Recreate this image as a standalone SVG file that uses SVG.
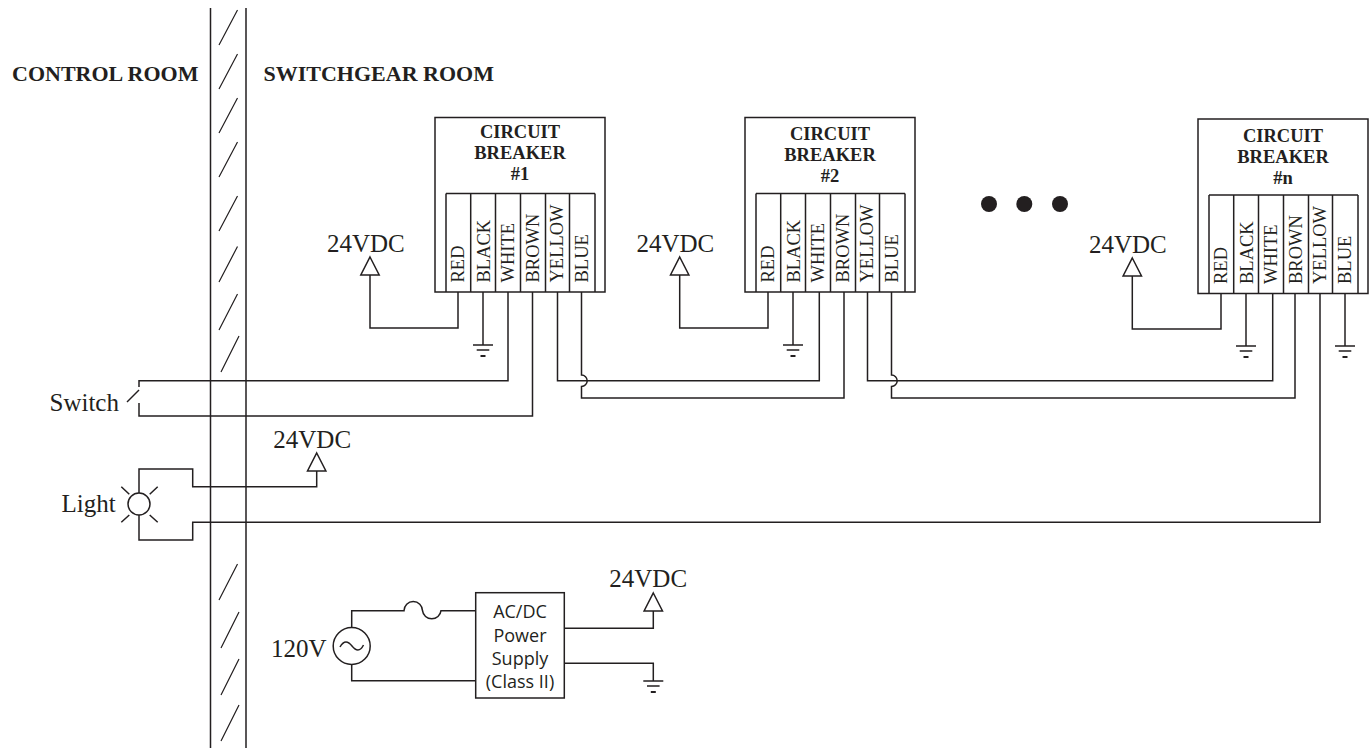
<svg xmlns="http://www.w3.org/2000/svg" width="1372" height="748" viewBox="0 0 1372 748">
<style>
.l{fill:none;stroke:#231f20;stroke-width:1.5}
.h{fill:none;stroke:#231f20;stroke-width:1.2}
text{fill:#231f20;font-family:"Liberation Serif",serif}
.b{font-weight:bold}
.room{font-size:22px}
.title{font-size:18.5px;text-anchor:middle;font-weight:bold}
.term{font-size:18.5px}
.v{font-size:25px}
.lab{font-size:25px}
.psu{font-family:"Open Sans","Noto Sans",sans-serif;font-size:18px;text-anchor:middle}
</style>
<defs>
<g id="gnd"><path class="l" d="M-10 0H10M-6.300 5H6.300"/><path fill="none" stroke="#231f20" stroke-width="2" d="M-2.500 11H2.500"/></g>
<path id="tri" class="l" d="M0 0L9.200 18H-9.200Z"/>
<g id="block">
<path class="l" d="M0 0H170V174.500H0Z"/>
<path class="l" d="M11 76V174.500M35.700 76V174.500M60.500 76V174.500M85.500 76V174.500M110.500 76V174.500M134.500 76V174.500M160 76V174.500M11 76H160"/>
<g class="term">
<text transform="translate(29 165) rotate(-90)">RED</text>
<text transform="translate(54.500 165) rotate(-90)">BLACK</text>
<text transform="translate(79 165) rotate(-90)">WHITE</text>
<text transform="translate(103.700 165) rotate(-90)">BROWN</text>
<text transform="translate(128 165) rotate(-90)">YELLOW</text>
<text transform="translate(153 165) rotate(-90)">BLUE</text>
</g>
</g>
</defs>
<rect width="1372" height="748" fill="#fff"/>
<g id="wall">
<path class="l" d="M210.500 8V748M246 8V748"/>
<path class="h" d="M219 45L237.500 10M219 89L237.500 54M219 133L237.500 98M219 177L237.500 142M219 231L237.500 196M219 282L237.500 246.500M219 330L237.500 294M221 372L239 336M219 600L237.500 564M221 648L239 612M221 695L239 659M221 741L239 705"/>
</g>
<g id="room-labels">
<text class="b room" x="12" y="81">CONTROL ROOM</text>
<text class="b room" x="263.500" y="81">SWITCHGEAR ROOM</text>
</g>
<g id="connectors">
<path class="l" d="M458 292V328H370V275"/>
<path class="l" d="M483 292V345"/>
<path class="l" d="M508 292V380.700H139V387M139 403V416H532.500V292"/>
<path class="l" d="M557.500 292V380.700H819.300V292"/>
<path class="l" d="M581.500 292V375A5.700 5.700 0 0 1 581.500 386.400V398H844V292"/>
<path class="l" d="M768 292V328H679.700V275"/>
<path class="l" d="M793 292V345"/>
<path class="l" d="M867.500 292V380.700H1272.700V294"/>
<path class="l" d="M891.500 292V375A5.700 5.700 0 0 1 891.500 386.400V398H1295V294"/>
<path class="l" d="M1221 294V329H1132.300V276"/>
<path class="l" d="M1246 294V346"/>
<path class="l" d="M1345 294V346"/>
<path class="l" d="M139 493V469H192.700V486.700H316.700V471"/>
<path class="l" d="M139 515V540H192.700V522.300H1320V294"/>
<path class="l" d="M351.700 627V610.700H404A9 9 0 0 1 422.500 610.700A9.300 9 0 0 0 441 610.700H475.700"/>
<path class="l" d="M351.700 665V680.700H475.700"/>
<path class="l" d="M564.300 628.300H653.300V611"/>
<path class="l" d="M564.300 663.300H653.300V681"/>
</g>
<g id="breaker-1">
<use href="#block" x="435" y="117.500"/>
<text class="title" x="520" y="138">CIRCUIT</text>
<text class="title" x="520" y="159">BREAKER</text>
<text class="title" x="520" y="180">#1</text>
</g>
<g id="breaker-2">
<use href="#block" x="745" y="117.500"/>
<text class="title" x="830" y="140">CIRCUIT</text>
<text class="title" x="830" y="161">BREAKER</text>
<text class="title" x="830" y="182">#2</text>
</g>
<g id="breaker-n">
<use href="#block" x="1198" y="119"/>
<text class="title" x="1283" y="142">CIRCUIT</text>
<text class="title" x="1283" y="163">BREAKER</text>
<text class="title" x="1283" y="184">#n</text>
</g>
<g id="dots" fill="#231f20">
<circle cx="989" cy="204" r="8"/>
<circle cx="1024.300" cy="204" r="8"/>
<circle cx="1060" cy="204" r="8"/>
</g>
<g id="supply-1"><text class="v" x="327" y="252">24VDC</text><use href="#tri" x="370" y="257"/></g>
<g id="supply-2"><text class="v" x="636.500" y="252">24VDC</text><use href="#tri" x="679.700" y="257"/></g>
<g id="supply-n"><text class="v" x="1089" y="253">24VDC</text><use href="#tri" x="1132.300" y="258"/></g>
<g id="supply-light"><text class="v" x="273.300" y="448">24VDC</text><use href="#tri" x="316.700" y="453"/></g>
<g id="supply-psu"><text class="v" x="609.300" y="587">24VDC</text><use href="#tri" x="653.300" y="593"/></g>
<g id="ground-1"><use href="#gnd" x="483" y="345"/></g>
<g id="ground-2"><use href="#gnd" x="793" y="345"/></g>
<g id="ground-n-black"><use href="#gnd" x="1246" y="346"/></g>
<g id="ground-n-blue"><use href="#gnd" x="1345" y="346"/></g>
<g id="ground-psu"><use href="#gnd" x="653.300" y="681"/></g>
<g id="switch">
<text class="lab" x="49.500" y="411">Switch</text>
<path class="l" d="M139 390L127 402"/>
</g>
<g id="light">
<text class="lab" x="61.500" y="512">Light</text>
<circle class="l" cx="139" cy="504" r="11"/>
<path class="l" d="M121.300 486.700L129.300 494.300M157.700 486.700L149.700 494.300M121.300 522.300L129.300 515M157.700 522.300L149.700 515"/>
</g>
<g id="source">
<text class="v" x="271" y="657">120V</text>
<circle class="l" cx="351.700" cy="646" r="18.500"/>
<path class="l" d="M340 647C344 640 348 641 352 646C356 651 360 652 363.500 645"/>
</g>
<g id="power-supply">
<rect class="l" x="475.700" y="592.700" width="88.600" height="105.300" fill="#fff"/>
<text class="psu" x="520" y="618">AC/DC</text>
<text class="psu" x="520" y="642">Power</text>
<text class="psu" x="520" y="665">Supply</text>
<text class="psu" x="520" y="688">(Class II)</text>
</g>
</svg>
